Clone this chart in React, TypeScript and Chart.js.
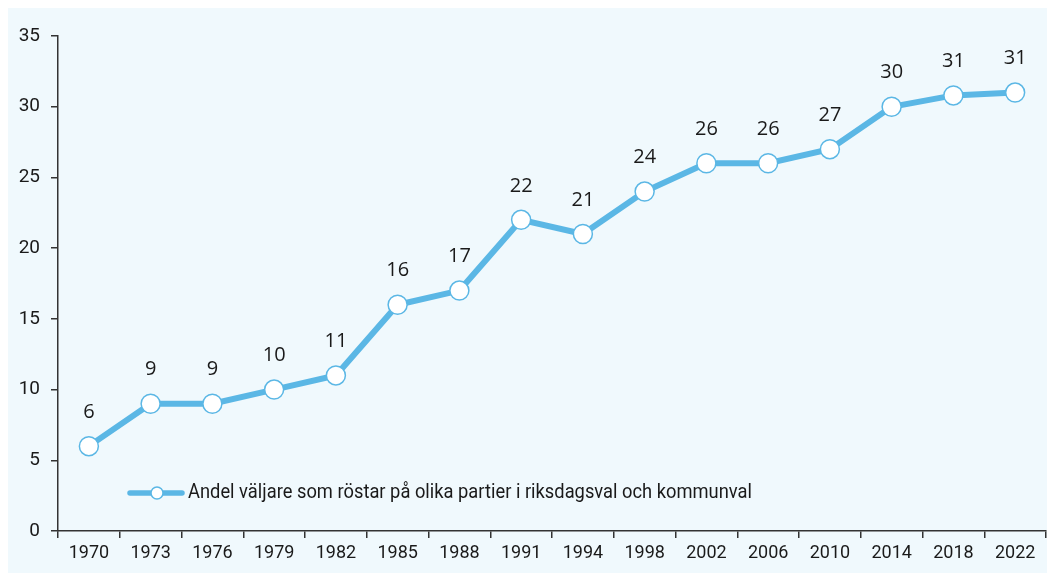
import React, { useEffect, useRef } from "react";
import { Chart, registerables } from "chart.js";

Chart.register(...registerables);

const years = ["1970", "1973", "1976", "1979", "1982", "1985", "1988", "1991", "1994", "1998", "2002", "2006", "2010", "2014", "2018", "2022"];
const shares = [6, 9, 9, 10, 11, 16, 17, 22, 21, 24, 26, 26, 27, 30, 30.8, 31];
const valueLabels = ["6", "9", "9", "10", "11", "16", "17", "22", "21", "24", "26", "26", "27", "30", "31", "31"];
const seriesName = "Andel väljare som röstar på olika partier i riksdagsval och kommunval";

const BLUE = "#5bb7e5";
const BG = "#f0f9fd";
const TICK_FONT = "Roboto, 'Noto Sans', sans-serif";
const LABEL_FONT = "'Open Sans', 'Noto Sans', sans-serif";

export default function App() {
  const ref = useRef<HTMLCanvasElement | null>(null);

  useEffect(() => {
    if (!ref.current) return;
    const bgPlugin = {
      id: "bg",
      beforeDraw(chart: any) {
        const { ctx, width, height } = chart;
        ctx.save();
        ctx.fillStyle = BG;
        ctx.fillRect(0, 0, width, height);
        ctx.restore();
      },
    };
    const labelPlugin = {
      id: "labels",
      afterDatasetsDraw(chart: any) {
        const { ctx } = chart;
        const meta = chart.getDatasetMeta(0);
        ctx.save();
        ctx.fillStyle = "#1a1a1a";
        ctx.font = `20px ${LABEL_FONT}`;
        ctx.textAlign = "center";
        ctx.textBaseline = "middle";
        meta.data.forEach((pt: any, i: number) => {
          ctx.fillText(valueLabels[i], pt.x, pt.y - 34);
        });
        // legend
        const area = chart.chartArea;
        const ly = area.bottom - 38;
        const lx = area.left + 72;
        ctx.strokeStyle = BLUE;
        ctx.lineWidth = 5.5;
        ctx.lineCap = "round";
        ctx.beginPath();
        ctx.moveTo(lx, ly);
        ctx.lineTo(lx + 52, ly);
        ctx.stroke();
        ctx.beginPath();
        ctx.arc(lx + 27, ly, 6, 0, Math.PI * 2);
        ctx.fillStyle = "#ffffff";
        ctx.fill();
        ctx.lineWidth = 1.5;
        ctx.stroke();
        ctx.fillStyle = "#1a1a1a";
        ctx.font = `21px ${TICK_FONT}`;
        ctx.textAlign = "left";
        const w = ctx.measureText(seriesName).width;
        const sx = 564 / w;
        ctx.translate(lx + 58, ly);
        ctx.scale(sx, 1);
        ctx.fillText(seriesName, 0, 0);
        ctx.restore();
      },
    };
    const chart = new Chart(ref.current, {
      type: "line",
      data: {
        labels: years,
        datasets: [
          {
            label: seriesName,
            data: shares,
            borderColor: BLUE,
            borderWidth: 6,
            pointRadius: 9.5,
            pointBackgroundColor: "#ffffff",
            pointBorderColor: BLUE,
            pointBorderWidth: 1.5,
            tension: 0,
          },
        ],
      },
      options: {
        animation: false,
        responsive: false,
        layout: { autoPadding: false, padding: { top: 28, right: 1, left: 0, bottom: 0 } },
        plugins: { legend: { display: false }, tooltip: { enabled: false } },
        scales: {
          x: {
            offset: true,
            grid: {
              display: true,
              drawOnChartArea: false,
              drawTicks: true,
              tickLength: 7,
              offset: true,
              color: "#333333",
              lineWidth: 1.5,
            },
            border: { display: true, color: "#333333", width: 1.5 },
            ticks: {
              color: "#1a1a1a",
              font: { family: TICK_FONT, size: 18 },
              padding: 5,
              maxRotation: 0,
              autoSkip: false,
            },
            afterFit(scale: any) {
              scale.height = 42;
              scale.paddingLeft = 0;
              scale.paddingRight = 0;
            },
          },
          y: {
            min: 0,
            max: 35,
            grid: {
              display: true,
              drawOnChartArea: false,
              drawTicks: true,
              tickLength: 7,
              color: "#333333",
              lineWidth: 1.5,
            },
            border: { display: true, color: "#333333", width: 1.5 },
            ticks: {
              stepSize: 5,
              color: "#1a1a1a",
              font: { family: TICK_FONT, size: 19 },
              padding: 11,
            },
            afterFit(scale: any) {
              scale.width = 50;
              scale.paddingTop = 0;
              scale.paddingBottom = 0;
            },
          },
        },
      },
      plugins: [bgPlugin, labelPlugin],
    });
    return () => chart.destroy();
  }, []);

  return (
    <div style={{ width: 1039, height: 565 }}>
      <canvas ref={ref} width={1039} height={565} style={{ display: "block" }} />
    </div>
  );
}
